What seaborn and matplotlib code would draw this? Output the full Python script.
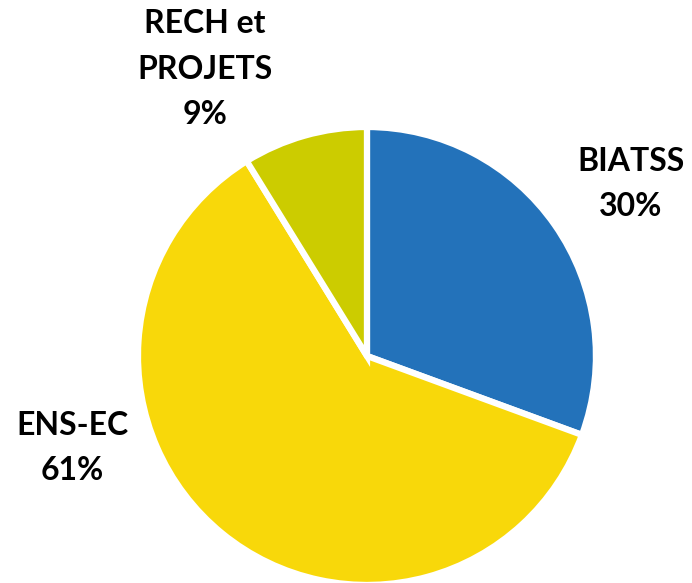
import matplotlib
matplotlib.use('Agg')
import matplotlib.pyplot as plt
import seaborn as sns

sns.set_theme(style='white')
plt.rcParams['font.family'] = ['Lato', 'DejaVu Sans']

# données
categories = ['BIATSS', 'ENS-EC', 'RECH et\nPROJETS']
parts = [30.6, 60.6, 8.8]
pourcentages = ['30%', '61%', '9%']
couleurs = ['#2372BA', '#F8D80A', '#CCCC00']

fig = plt.figure(figsize=(6.92, 5.83), dpi=100)
ax = fig.add_axes([0.1994, -0.0034, 0.6618, 0.7856])

ax.pie(parts, colors=couleurs, startangle=90, counterclock=False,
       wedgeprops=dict(edgecolor='white', linewidth=4.5))
ax.set_xlim(-1, 1)
ax.set_ylim(-1, 1)
ax.set_aspect('equal')
ax.axis('off')

# étiquettes
positions = [(1.153, 0.751), (-1.288, -0.402), (-0.707, 1.253)]
for cat, pct, (x, y) in zip(categories, pourcentages, positions):
    ax.text(x, y, f'{cat}\n{pct}', ha='center', va='center', fontsize=23,
            fontweight='bold', color='black', linespacing=1.7, clip_on=False)

plt.savefig('out.png', dpi=100)
